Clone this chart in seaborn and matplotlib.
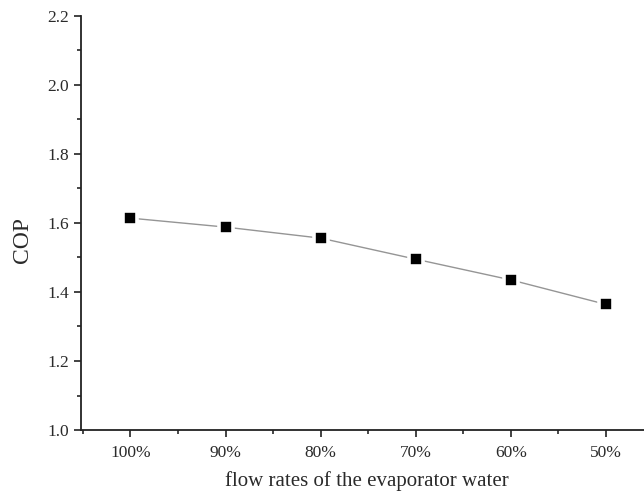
import numpy as np
import pandas as pd
import matplotlib
matplotlib.use("Agg")
import matplotlib.pyplot as plt
import seaborn as sns
from matplotlib.ticker import MultipleLocator, FormatStrFormatter

# data
flow_labels = ["100%", "90%", "80%", "70%", "60%", "50%"]
cop_values = [1.614, 1.588, 1.556, 1.495, 1.435, 1.364]

df = pd.DataFrame({"pos": np.arange(len(flow_labels)), "COP": cop_values})

sns.set_style("ticks")
plt.rcParams["font.family"] = ["Liberation Serif", "DejaVu Serif"]

fig = plt.figure(figsize=(6.44, 4.96), dpi=100)
ax = fig.add_axes([0.1258, 0.133, 0.8742, 0.835])

# thin grey connecting line, then black squares with a white rim (Origin style gap)
sns.lineplot(data=df, x="pos", y="COP", ax=ax, color="#959595", linewidth=1.0, sort=False)
sns.scatterplot(data=df, x="pos", y="COP", ax=ax, marker="s", s=95, color="black",
                edgecolor="white", linewidth=2.6, zorder=3)

ax.set_xlim(-0.52, 5.4)
ax.set_ylim(1.0, 2.2)
ax.set_xticks(df["pos"])
ax.set_xticklabels(flow_labels)
ax.xaxis.set_minor_locator(MultipleLocator(0.5))
ax.yaxis.set_major_locator(MultipleLocator(0.2))
ax.yaxis.set_minor_locator(MultipleLocator(0.1))
ax.yaxis.set_major_formatter(FormatStrFormatter("%.1f"))

ax.tick_params(which="major", direction="out", length=5, width=1.2, labelsize=12.5,
               colors="#222222", labelcolor="#2a2a2a")
ax.tick_params(axis="x", which="major", pad=6)
ax.tick_params(which="minor", direction="out", length=3, width=1.2)
for side in ["left", "bottom"]:
    ax.spines[side].set_linewidth(1.3)
    ax.spines[side].set_color("#222222")
sns.despine(ax=ax)

ax.set_xlabel("flow rates of the evaporator water", fontsize=15, color="#2a2a2a")
ax.set_ylabel("COP", fontsize=17, color="#2a2a2a")
ax.xaxis.set_label_coords(0.508, -0.098)
ax.yaxis.set_label_coords(-0.086, 0.458)

fig.savefig("out.png", dpi=100)
